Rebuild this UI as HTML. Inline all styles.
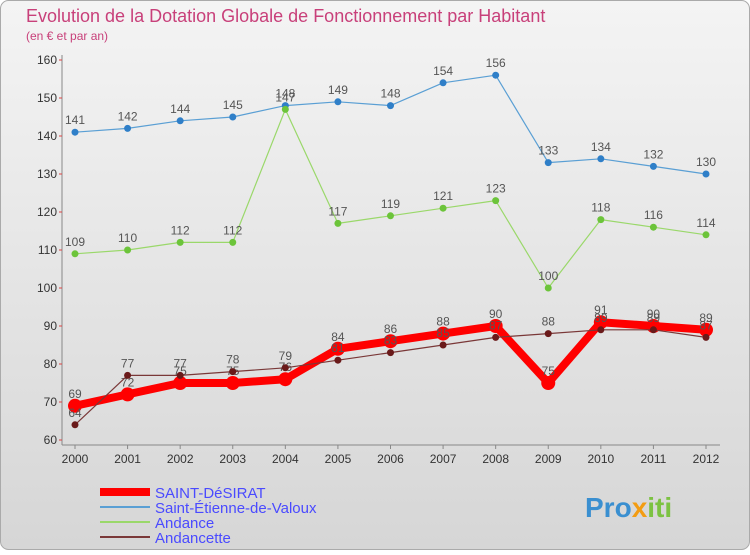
<!DOCTYPE html>
<html><head><meta charset="utf-8"><style>
body{margin:0;width:750px;height:550px;overflow:hidden;font-family:"Liberation Sans",sans-serif}
</style></head><body>
<svg width="750" height="550">
<defs><linearGradient id="bg" x1="0" y1="0" x2="0" y2="1"><stop offset="0" stop-color="#f4f4f4"/><stop offset="1" stop-color="#d6d6d6"/></linearGradient></defs>
<rect x="0.5" y="0.5" width="749" height="549" rx="8" fill="url(#bg)" stroke="#aaa"/>
<text x="26" y="22" font-size="18" fill="#c8407a">Evolution de la Dotation Globale de Fonctionnement par Habitant</text>
<text x="26" y="40" font-size="12" fill="#c8407a">(en € et par an)</text>
<g id="axes"></g>
<g id="series"></g>
<g id="legend"></g>
<text x="585" y="517" font-size="28" font-weight="bold" fill="#3a8fd0">Pro<tspan fill="#f39c12">x</tspan><tspan fill="#7cc242">iti</tspan></text>
</svg>
<script>
const years=[2000,2001,2002,2003,2004,2005,2006,2007,2008,2009,2010,2011,2012];
const yTicks=[60,70,80,90,100,110,120,130,140,150,160];
const stEtienne=[141,142,144,145,148,149,148,154,156,133,134,132,130];
const andance=[109,110,112,112,147,117,119,121,123,100,118,116,114];
const desirat=[69,72,75,75,76,84,86,88,90,75,91,90,89];
const andancette=[64,77,77,78,79,81,83,85,87,88,89,89,87];
const NS="http://www.w3.org/2000/svg";
const X=i=>75+i*(706-75)/(years.length-1);
const Y=v=>440-(v-60)*3.8;
function mk(tag,attrs,parent){const e=document.createElementNS(NS,tag);for(const k in attrs)e.setAttribute(k,attrs[k]);parent.appendChild(e);return e;}
const ax=document.getElementById('axes');
let l=mk('line',{x1:62,y1:55,x2:62,y2:445,stroke:'#888'},ax);


l=mk('line',{x1:62,y1:445,x2:720,y2:445,stroke:'#888'},ax);


yTicks.forEach(v=>{
 const t=mk('text',{x:57,y:Y(v)+4,'font-size':12,'text-anchor':'end',fill:'#333'},ax);t.textContent=v;
 
 
 mk('line',{x1:59,y1:Y(v),x2:62,y2:Y(v),stroke:'#d44'},ax);
});
years.forEach((y,i)=>{
 const t=mk('text',{x:X(i),y:463,'font-size':12,'text-anchor':'middle',fill:'#333'},ax);t.textContent=y;
 
 
 mk('line',{x1:X(i),y1:445,x2:X(i),y2:449,stroke:'#888'},ax);
});
const sg=document.getElementById('series');
const defs=[
 {d:stEtienne,c:'#5a9fd4',dot:'#2f7fc8',w:1.2,r:3.5,n:'saint-etienne'},
 {d:andance,c:'#9ad86a',dot:'#6cc43a',w:1.2,r:3.5,n:'andance'},
 {d:desirat,c:'#ff0000',dot:'#ff0000',w:8,r:7,n:'saint-desirat'},
 {d:andancette,c:'#7a3838',dot:'#6a1a1a',w:1.2,r:3.5,n:'andancette'}];
defs.forEach(s=>{
 const g=mk('g',{},sg);
 
 
 const p=mk('polyline',{points:s.d.map((v,i)=>X(i)+','+Y(v)).join(' '),fill:'none',stroke:s.c,'stroke-width':s.w,'stroke-linejoin':'round'},g);
 
 
 s.d.forEach((v,i)=>{
  const c=mk('circle',{cx:X(i),cy:Y(v),r:s.r,fill:s.dot},g);
  
  
  const t=mk('text',{x:X(i),y:Y(v)-8,'font-size':12,'text-anchor':'middle',fill:'#555'},g);t.textContent=v;
  
  
 });
});
const lg=document.getElementById('legend');
const names=['SAINT-DéSIRAT','Saint-Étienne-de-Valoux','Andance','Andancette'];
const lc=['#ff0000','#5a9fd4','#9ad86a','#7a3838'],lw=[8,2,2,2];
names.forEach((n,i)=>{
 const y=492+i*15;
 const ln=mk('line',{x1:100,y1:y,x2:150,y2:y,stroke:lc[i],'stroke-width':lw[i]},lg);
 
 
 const t=mk('text',{x:155,y:y+6,'font-size':15,fill:'#4a4aff'},lg);t.textContent=n;
 
 
});
</script>
</body></html>
